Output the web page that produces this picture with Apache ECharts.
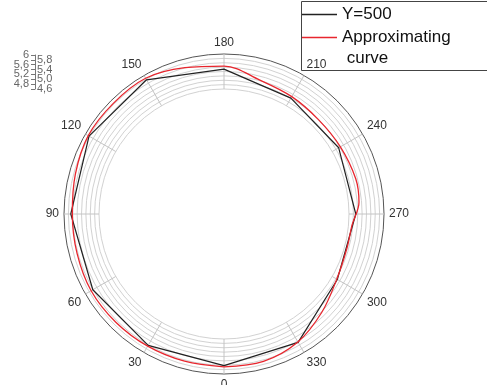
<!DOCTYPE html>
<html>
<head>
<meta charset="utf-8">
<script src="https://cdn.jsdelivr.net/npm/echarts@6/dist/echarts.min.js"></script>
<style>
html,body{margin:0;padding:0;background:#fff;}
#chart{width:487px;height:385px;}
</style>
</head>
<body>
<div id="chart"></div>
<script>
// ---- data ----
var blackAngles = [0, 30, 60, 90, 120, 150, 180, 210, 240, 270, 300, 330, 360];
var blackValues = [5.82, 5.82, 5.81, 5.89, 6.01, 5.97, 5.51, 5.00, 4.94, 4.91, 4.87, 5.66, 5.82];

var redAngles = [0, 15, 30, 45, 60, 75, 90, 105, 120, 135, 150, 165, 180, 195, 210, 225, 240, 255, 265, 275, 285, 300, 315, 330, 345, 360];
var redValues = [5.87, 5.85, 5.86, 5.88, 5.90, 5.84, 5.82, 5.92, 6.05, 6.04, 6.05, 5.81, 5.65, 5.22, 5.08, 4.99, 5.03, 5.12, 5.08, 4.76, 4.72, 4.84, 5.22, 5.64, 5.86, 5.87];

var angleTickLabels = ['0', '30', '60', '90', '120', '150', '180', '210', '240', '270', '300', '330'];
var scaleLeftValues = [4.8, 5.2, 5.6, 6.0];
var scaleLeftLabels = ['4,8', '5,2', '5,6', '6'];
var scaleRightValues = [4.6, 5.0, 5.4, 5.8];
var scaleRightLabels = ['4,6', '5,0', '5,4', '5,8'];

var seriesNames = ['Y=500', 'Approximating curve'];

function pairs(vals, angs) {
  var out = [];
  for (var i = 0; i < vals.length; i++) out.push([vals[i], angs[i]]);
  return out;
}
function labelFrom(values, labels) {
  return function (v) {
    for (var i = 0; i < values.length; i++) {
      if (Math.abs(values[i] - v) < 1e-6) return labels[i];
    }
    return '';
  };
}

var chart = echarts.init(document.getElementById('chart'), null, {renderer: 'canvas'});
var font = 'Liberation Sans, Arial, sans-serif';
var ringColors = ['#d2d2d2', '#d2d2d2', '#d2d2d2', '#d2d2d2', '#d2d2d2', '#d2d2d2', '#d2d2d2', '#d2d2d2', '#555555'];

chart.setOption({
  backgroundColor: '#fff',
  animation: false,
  polar: {center: [224, 214], radius: [125, 160]},
  angleAxis: {
    type: 'value', min: 0, max: 360, interval: 30,
    startAngle: 270, clockwise: true,
    axisLine: {show: false},
    axisTick: {show: false},
    axisLabel: {
      margin: 5, fontSize: 12, fontFamily: font, color: '#333',
      formatter: function (v) { var i = Math.round(v / 30); return v < 360 ? angleTickLabels[i] : ''; }
    },
    splitLine: {show: true, lineStyle: {color: '#c4c4c4', width: 1}}
  },
  radiusAxis: {
    type: 'value', min: 4.6, max: 6.2, interval: 0.2,
    axisLine: {show: false}, axisTick: {show: false}, axisLabel: {show: false},
    splitLine: {show: true, lineStyle: {color: ringColors, width: 1}}
  },
  grid: {left: 35, top: 55, height: 34, width: 10},
  xAxis: {type: 'value', show: false, gridIndex: 0},
  yAxis: [{
    type: 'value', gridIndex: 0, position: 'left', min: 4.6, max: 6.0, interval: 0.2,
    axisLine: {show: true, lineStyle: {color: '#777', width: 1}},
    axisTick: {show: true, length: 4, lineStyle: {color: '#777'}},
    axisLabel: {margin: 6, fontSize: 11, fontFamily: font, color: '#666',
      formatter: labelFrom(scaleLeftValues, scaleLeftLabels)},
    splitLine: {show: false}
  }, {
    type: 'value', gridIndex: 0, position: 'left', offset: 0, min: 4.6, max: 6.0, interval: 0.2,
    axisLine: {show: false}, axisTick: {show: false},
    axisLabel: {inside: true, margin: 2, fontSize: 11, fontFamily: font, color: '#666',
      formatter: labelFrom(scaleRightValues, scaleRightLabels)},
    splitLine: {show: false}
  }],
  graphic: [{
    type: 'rect', left: 299, top: -1, shape: {width: 190, height: 69},
    style: {fill: 'none', stroke: '#444', lineWidth: 1}, z: 10
  }],
  legend: [{
    data: [seriesNames[0]], left: 301, top: 4, padding: 0,
    icon: 'rect', itemWidth: 36, itemHeight: 1.5, itemGap: 0,
    textStyle: {fontSize: 17, fontFamily: font, color: '#111', lineHeight: 21}
  }, {
    data: [seriesNames[1]], left: 301, top: 6, padding: 0,
    icon: 'rect', itemWidth: 36, itemHeight: 1.5, itemGap: 0,
    formatter: function () { return ' \nApproximating\n curve'; },
    textStyle: {fontSize: 17, fontFamily: font, color: '#111', lineHeight: 21}
  }],
  series: [{
    name: seriesNames[0], type: 'line', coordinateSystem: 'polar',
    data: pairs(blackValues, blackAngles), symbol: 'none',
    lineStyle: {color: '#222', width: 1.2}, itemStyle: {color: '#222'}, z: 3
  }, {
    name: seriesNames[1], type: 'line', coordinateSystem: 'polar',
    data: pairs(redValues, redAngles), symbol: 'none', smooth: 0.35,
    lineStyle: {color: '#e8262e', width: 1.3}, itemStyle: {color: '#e8262e'}, z: 4
  }]
});
</script>
</body>
</html>
